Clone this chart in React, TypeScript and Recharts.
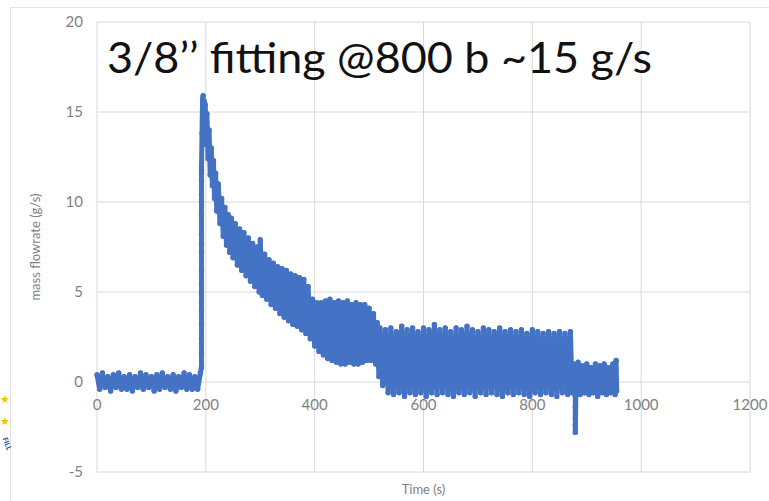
import React from "react";
import {
  ScatterChart,
  Scatter,
  XAxis,
  YAxis,
  CartesianGrid,
} from "recharts";

// time (s), mass flowrate (g/s)
const baseline = [
  [0, 0.4], [5, -0.4], [10, 0.5], [15, -0.3], [20, 0.3], [25, -0.5], [30, 0.4], [35, -0.3],
  [40, 0.5], [45, -0.4], [50, 0.3], [55, -0.4], [60, 0.4], [65, -0.5], [70, 0.3], [75, -0.3],
  [80, 0.5], [85, -0.4], [90, 0.4], [95, -0.3], [100, 0.3], [105, -0.5], [110, 0.4], [115, -0.4],
  [120, 0.5], [125, -0.3], [130, 0.3], [135, -0.4], [140, 0.4], [145, -0.5], [150, 0.3], [155, -0.3],
  [160, 0.5], [165, -0.4], [170, 0.4], [175, -0.4], [180, 0.3], [185, -0.4], [190, 0.5],
];

const rise = [
  [192, 0.8], [192, 1.6], [192, 2.4], [192, 3.2], [192, 4.0], [192, 4.4], [192, 4.9], [192, 5.5],
  [192, 6.2], [192, 7.2], [192, 7.7], [192, 8.2], [192, 9.3], [192, 10.0], [192, 10.4], [192, 11.2],
  [192, 11.6], [192, 11.8], [193, 13.8], [194, 15.7],
];

const decay = [
  [195, 15.9], [196, 14.2], [197, 15.6], [198, 13.6], [199, 15.4], [200, 13.2], [202, 14.9], [204, 12.4],
  [206, 14.0], [208, 11.5], [210, 13.0], [212, 10.9], [214, 12.3], [216, 10.2], [218, 11.6], [220, 9.5],
  [223, 11.0], [226, 8.8], [229, 10.2], [232, 8.1], [235, 9.7], [238, 7.6], [241, 9.3], [244, 7.2],
  [247, 9.1], [250, 6.9], [254, 8.8], [258, 6.5], [262, 8.5], [266, 6.2], [270, 8.3], [274, 5.9],
  [278, 8.0], [282, 5.6], [286, 7.7], [290, 5.3], [294, 7.5], [298, 5.0], [300, 7.9], [304, 4.8],
  [308, 7.1], [312, 4.6], [316, 6.8], [320, 4.3], [324, 6.6], [328, 4.1], [332, 6.4], [336, 3.8],
  [340, 6.3], [344, 3.6], [348, 6.2], [352, 3.4], [356, 6.0], [360, 3.2], [364, 5.9], [368, 3.1],
  [372, 5.8], [376, 2.9], [380, 5.7], [384, 2.7], [388, 5.3], [392, 2.4], [396, 4.6], [400, 2.0],
  [404, 4.4], [408, 1.7], [412, 4.4], [416, 1.5], [420, 4.5], [424, 1.3], [428, 4.6], [432, 1.2],
  [436, 4.4], [440, 1.1], [444, 4.5], [448, 1.0], [452, 4.4], [456, 1.0], [460, 4.5], [464, 1.1],
  [468, 4.3], [472, 1.0], [476, 4.4], [480, 1.0], [484, 4.3], [488, 1.1], [492, 4.3], [496, 1.2],
  [500, 4.1], [504, 1.2], [508, 3.8], [512, 1.0], [515, 3.3], [518, 0.3],
];

const plateau = [
  [520, 3.0], [525, -0.2], [530, 2.9], [535, -0.6], [540, 3.0], [545, -0.7], [550, 2.8], [555, -0.6],
  [560, 3.1], [565, -0.8], [570, 2.9], [575, -0.6], [580, 3.0], [585, -0.7], [590, 2.8], [595, -0.6],
  [600, 3.0], [605, -0.8], [610, 2.9], [615, -0.6], [620, 3.2], [625, -0.7], [630, 2.9], [635, -0.6],
  [640, 3.0], [645, -0.7], [650, 2.8], [655, -0.8], [660, 3.0], [665, -0.6], [670, 2.9], [675, -0.7],
  [680, 3.1], [685, -0.6], [690, 2.9], [695, -0.8], [700, 2.8], [705, -0.6], [710, 3.0], [715, -0.7],
  [720, 2.9], [725, -0.6], [730, 2.8], [735, -0.7], [740, 3.0], [745, -0.8], [750, 2.8], [755, -0.6],
  [760, 2.9], [765, -0.7], [770, 2.8], [775, -0.6], [780, 2.9], [785, -0.7], [790, 2.7], [795, -0.8],
  [800, 2.9], [805, -0.6], [810, 2.8], [815, -0.7], [820, 2.7], [825, -0.6], [830, 2.8], [835, -0.7],
  [840, 2.7], [845, -0.8], [850, 2.8], [855, -0.6], [860, 2.7], [865, -0.7], [870, 2.8],
];

const tail = [
  [873, -0.6], [876, 1.0], [879, -0.8], [879, -1.4], [879, -2.0], [879, -2.4], [879, -2.8], [880, -0.5],
  [884, 1.1], [888, -0.7], [892, 0.9], [896, -0.6], [900, 1.0], [904, -0.7], [908, 0.8], [912, -0.6],
  [916, 1.0], [920, -0.8], [924, 0.9], [928, -0.6], [932, 1.0], [936, -0.7], [940, 0.8], [944, -0.6],
  [948, 1.0], [952, -0.7], [954, 1.2], [955, -0.5],
];

const xTicks = [0, 200, 400, 600, 800, 1000, 1200];
const yTicks = [-5, 0, 5, 10, 15, 20];

const title = "3/8\u2019\u2019 fitting @800 b ~15 g/s";

const data = [...baseline, ...rise, ...decay, ...plateau, ...tail].map(([t, y]) => ({ t, y }));

const BLUE = "#4472C4";
const GREY = "#7f7f7f";

// Excel puts the horizontal tick labels at the y = 0 crossing, not at the bottom
const PLOT_H = 450;
const ZERO_UP = (PLOT_H * (0 - yTicks[0])) / (yTicks[yTicks.length - 1] - yTicks[0]);

const XTick = (props: any) => {
  const { x, y, payload } = props;
  return (
    <text x={x} y={y - ZERO_UP + 26} textAnchor="middle" fill={GREY} fontSize={15}>
      {payload.value}
    </text>
  );
};

const Dot = (props: any) => <circle cx={props.cx} cy={props.cy} r={2.7} fill={BLUE} />;

export default function App() {
  return (
    <div
      style={{
        position: "absolute",
        left: 0,
        top: 0,
        width: 769,
        height: 501,
        background: "#fff",
        fontFamily: "Lato, 'Open Sans', sans-serif",
        overflow: "hidden",
      }}
    >
      <div
        style={{
          position: "absolute",
          left: 10,
          top: 7,
          width: 800,
          height: 600,
          border: "1px solid #e3e3e3",
        }}
      />
      <span style={{ position: "absolute", left: 0, top: 392, color: "#f2c500", fontSize: 11 }}>★</span>
      <span style={{ position: "absolute", left: 0, top: 414, color: "#f2c500", fontSize: 11 }}>★</span>
      <span
        style={{
          position: "absolute",
          left: 9,
          top: 436,
          color: "#2a4f9a",
          fontSize: 7,
          fontWeight: 700,
          lineHeight: "8px",
          transform: "rotate(70deg)",
          transformOrigin: "left top",
        }}
      >
        FILL
      </span>
      <ScatterChart
        width={769}
        height={501}
        margin={{ top: 22, right: 19, bottom: 0, left: 0 }}
        style={{ position: "absolute", left: 0, top: 0 }}
      >
        <CartesianGrid stroke="#d9d9d9" />
        <XAxis
          type="number"
          dataKey="t"
          domain={[0, 1200]}
          ticks={xTicks}
          height={29}
          axisLine={false}
          tickLine={false}
          tickSize={0}
          tick={<XTick />}
          label={{ value: "Time (s)", position: "insideBottom", offset: 7, fill: GREY, fontSize: 13 }}
        />
        <YAxis
          type="number"
          dataKey="y"
          domain={[-5, 20]}
          ticks={yTicks}
          width={97}
          axisLine={false}
          tickLine={false}
          tickSize={0}
          tickMargin={14}
          tick={{ fill: GREY, fontSize: 15 }}
          label={{
            content: (p: any) => {
              const vb = p.viewBox;
              const cx = 40;
              const cy = vb.y + vb.height / 2;
              return (
                <text
                  x={cx}
                  y={cy}
                  transform={`rotate(-90, ${cx}, ${cy})`}
                  textAnchor="middle"
                  fill={GREY}
                  fontSize={13}
                >
                  mass flowrate (g/s)
                </text>
              );
            },
          }}
        />
        <Scatter
          data={data}
          fill={BLUE}
          line={{ stroke: BLUE, strokeWidth: 5, strokeLinejoin: "round" }}
          shape={<Dot />}
          isAnimationActive={false}
        />
      </ScatterChart>
      <svg
        width={769}
        height={501}
        style={{ position: "absolute", left: 0, top: 0, pointerEvents: "none" }}
      >
        <text
          x={107}
          y={73}
          fontSize={43}
          fill="#111"
          textLength={545}
          lengthAdjust="spacingAndGlyphs"
          fontFamily="Lato, 'Open Sans', sans-serif"
        >
          {title}
        </text>
      </svg>
    </div>
  );
}
